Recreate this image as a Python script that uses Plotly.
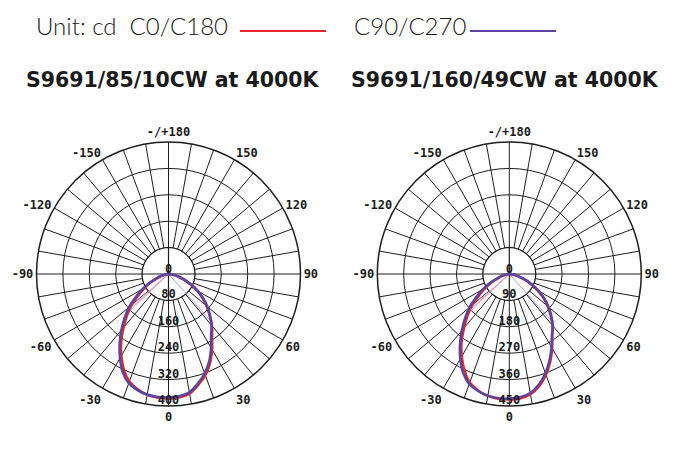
import plotly.graph_objects as go

# luminous intensity (cd), angle 0 = straight down, +90 = right
ANGLES = [-90, -85, -80, -75, -70, -65, -60, -55, -50, -45, -40, -35, -30, -25,
          -20, -15, -10, -5, 0, 5, 10, 15, 20, 25, 30, 35, 40, 45, 50, 55, 60,
          65, 70, 75, 80, 85, 90]

# S9691/85/10CW
C0_A = [0, 3, 10, 22, 36, 58, 82, 110, 146, 178, 212, 250, 286, 320,
        347, 362, 372, 376, 377, 375, 368, 348, 326, 298, 264, 230, 205, 176,
        150, 125, 98, 72, 50, 30, 14, 5, 0]
C90_A = [0, 3, 11, 24, 40, 64, 90, 120, 156, 188, 222, 258, 294, 328,
         352, 364, 371, 374, 374, 372, 364, 344, 320, 292, 258, 225, 203, 178,
         154, 128, 102, 76, 52, 32, 15, 5, 0]

# S9691/160/49CW
C0_B = [0, 3, 11, 25, 41, 66, 93, 125, 166, 202, 240, 284, 324, 362,
        394, 411, 422, 427, 428, 426, 416, 395, 365, 330, 292, 255, 230, 200,
        170, 142, 110, 82, 56, 34, 16, 5, 0]
C90_B = [0, 3, 12, 27, 45, 73, 102, 136, 177, 213, 252, 293, 334, 372,
         399, 413, 421, 425, 425, 422, 412, 390, 360, 325, 288, 254, 230, 202,
         175, 145, 116, 86, 59, 36, 17, 5, 0]

# thin raw segments from the centre to the curve
THIN_ANG = [-49, -47.5, -46, 42]
THIN_A = [152, 160, 168, 190]
THIN_B = [172, 182, 190, 215]
THIN_COL = ["#f4a8b2", "#9c84d2", "#f29aa6", "#a08ad4"]

RINGS_A = [80, 160, 240, 320, 400]
RINGS_B = [90, 180, 270, 360, 450]

ANGLE_LABELS = {0: "0", 30: "30", 60: "60", 90: "90", 120: "120", 150: "150",
                180: "-/+180", 210: "-150", 240: "-120", 270: "-90",
                300: "-60", 330: "-30"}

RED = "#e8262f"
BLUE = "#5a46a0"
GRID = "#1e1e1e"
MONO = "DejaVu Sans Mono"
W, H = 694, 452
R_PX = 132  # plot radius in pixels


def px(x):
    # page pixel -> paper fraction (page body has an 8px margin)
    return (x - 8) / W


def py(y):
    return 1 - (y - 8) / H


fig = go.Figure()


def add_chart(sub, rings, c0, c90, thin):
    inner = rings[0]
    off = 5 * rings[-1] / R_PX  # nudge ring labels just inside their ring
    circ = list(range(0, 361, 5))
    # white hub: spokes start at the first ring
    fig.add_trace(go.Scatterpolar(r=[inner] * len(circ), theta=circ, mode="lines",
                                  fill="toself", fillcolor="white",
                                  line=dict(color=GRID, width=1.2),
                                  hoverinfo="skip", subplot=sub))
    for a in (0, 90):
        fig.add_trace(go.Scatterpolar(r=[inner, inner], theta=[a, a + 180], mode="lines",
                                      line=dict(color=GRID, width=1.2),
                                      hoverinfo="skip", subplot=sub))
    for ang, val, col in zip(THIN_ANG, thin, THIN_COL):
        fig.add_trace(go.Scatterpolar(r=[0, val], theta=[ang, ang], mode="lines",
                                      line=dict(color=col, width=0.8),
                                      hoverinfo="skip", subplot=sub))
    fig.add_trace(go.Scatterpolar(r=c0, theta=ANGLES, mode="lines", name="C0/C180",
                                  line=dict(color=RED, width=2.6, shape="spline"),
                                  subplot=sub))
    fig.add_trace(go.Scatterpolar(r=c90, theta=ANGLES, mode="lines", name="C90/C270",
                                  line=dict(color=BLUE, width=2.6, shape="spline"),
                                  subplot=sub))
    lab_r = [off * 0.8] + [v - off for v in rings]
    lab_t = [180] + [0] * len(rings)
    fig.add_trace(go.Scatterpolar(r=lab_r, theta=lab_t, mode="text",
                                  text=["0"] + [str(v) for v in rings],
                                  textposition="middle center",
                                  textfont=dict(family=MONO, size=12, color="#1a1a1a",
                                                weight="bold"),
                                  hoverinfo="skip", subplot=sub))


add_chart("polar", RINGS_A, C0_A, C90_A, THIN_A)
add_chart("polar2", RINGS_B, C0_B, C90_B, THIN_B)

tickvals = list(range(0, 360, 10))
ticktext = [ANGLE_LABELS.get(v, "") for v in tickvals]


def polar_layout(x0, rings):
    return dict(
        domain=dict(x=[px(x0 - R_PX), px(x0 + R_PX)], y=[py(274 + R_PX), py(274 - R_PX)]),
        bgcolor="white",
        angularaxis=dict(rotation=-90, direction="counterclockwise",
                         tickmode="array", tickvals=tickvals, ticktext=ticktext,
                         showline=True, linecolor=GRID, linewidth=1.5,
                         gridcolor=GRID, gridwidth=1.2, ticks="",
                         tickfont=dict(family=MONO, size=12, color="#1a1a1a",
                                       weight="bold"),
                         layer="below traces"),
        radialaxis=dict(range=[0, rings[-1]], tickvals=rings, showticklabels=False,
                        showline=False, ticks="", gridcolor=GRID, gridwidth=1.2,
                        layer="below traces"),
    )


fig.update_layout(
    width=W, height=H,
    margin=dict(l=0, r=0, t=0, b=0),
    paper_bgcolor="white",
    showlegend=False,
    polar=polar_layout(168.5, RINGS_A),
    polar2=polar_layout(509.3, RINGS_B),
)

# header text and legend swatches
head = dict(family="Lato", size=24, color="#1a1a1a", weight=300)
fig.add_annotation(x=px(34), y=py(25), text="Unit: cd  C0/C180", font=head,
                   xanchor="left")
fig.add_annotation(x=px(352), y=py(25), text="C90/C270", font=head, xanchor="left")
title = dict(family="DejaVu Sans", size=20.5, color="#1a1a1a", weight="bold")
fig.add_annotation(x=px(172), y=py(80), text="S9691/85/10CW at 4000K", font=title,
                   xanchor="center")
fig.add_annotation(x=px(505), y=py(80), text="S9691/160/49CW at 4000K", font=title,
                   xanchor="center")
fig.update_annotations(xref="paper", yref="paper", showarrow=False, yanchor="middle")

fig.add_shape(type="line", xref="paper", yref="paper", x0=px(240), x1=px(326),
              y0=py(31), y1=py(31), line=dict(color=RED, width=2))
fig.add_shape(type="line", xref="paper", yref="paper", x0=px(470), x1=px(556),
              y0=py(31), y1=py(31), line=dict(color=BLUE, width=2))

fig.write_html("out.html")
